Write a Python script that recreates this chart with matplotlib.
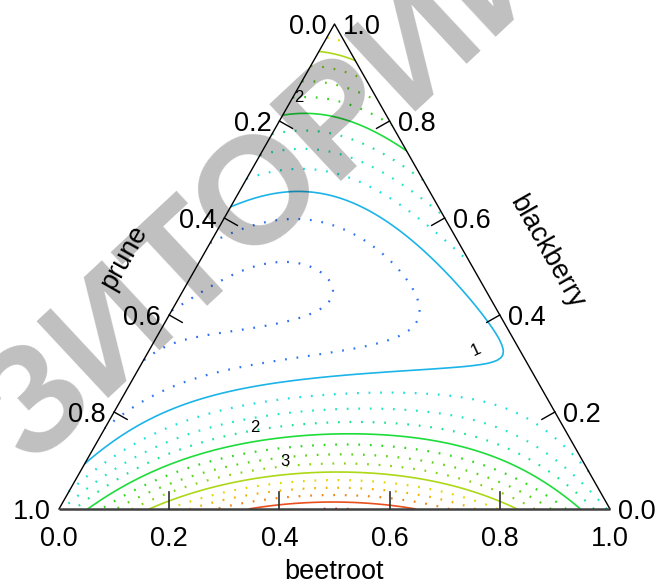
import numpy as np
import matplotlib
matplotlib.use('Agg')
import matplotlib.pyplot as plt
import matplotlib.tri as mtri

plt.rcParams['font.family'] = ['Liberation Sans', 'DejaVu Sans']

# points: beetroot share, blackberry share, level
beet_pts = [0.334, 0.655, 0.494,
            0.160, 0.836, 0.473, 0.000, 0.078,
            0.053, 0.944, 0.433, 0.000, 0.012, 0.097, 0.189, 0.266,
            0.000, 0.108, 0.179, 0.323, 0.436, 0.526, 0.585, 0.640, 0.610, 0.400, 0.224, 0.122, 0.000,
            0.000, 0.056, 0.127, 0.215, 0.294, 0.411, 0.253, 0.147, 0.000,
            0.000, 0.000, 0.140, 0.264, 0.133,
            0.390, 0.407, 0.420, 0.444, 0.453, 0.463, 0.480, 0.488, 0.496, 0.372, 0.023]
black_pts = [0.000, 0.000, 0.013,
             0.000, 0.000, 0.074, 0.942, 0.922,
             0.000, 0.000, 0.155, 0.814, 0.816, 0.811, 0.777, 0.734,
             0.622, 0.654, 0.646, 0.584, 0.509, 0.433, 0.383, 0.335, 0.298, 0.280, 0.253, 0.212, 0.091,
             0.550, 0.581, 0.596, 0.579, 0.540, 0.344, 0.307, 0.280, 0.165,
             0.400, 0.330, 0.503, 0.445, 0.365,
             0.239, 0.206, 0.179, 0.132, 0.113, 0.093, 0.060, 0.043, 0.027, 0.276, 0.967]
value_pts = [4, 4, 4,
             3, 3, 3, 3, 3,
             2, 2, 2, 2, 2, 2, 2, 2,
             1, 1, 1, 1, 1, 1, 1, 1, 1, 1, 1, 1, 1,
             0.75, 0.75, 0.75, 0.75, 0.75, 0.75, 0.75, 0.75, 0.75,
             0.5, 0.5, 0.5, 0.5, 0.5,
             1.25, 1.5, 1.75, 2.25, 2.5, 2.75, 3.25, 3.5, 3.75, 1, 3.25]

solid_levels = [1.0, 2.0, 3.0, 4.0]
dotted_levels = [0.5, 0.75, 1.25, 1.5, 1.75, 2.25, 2.5, 2.75, 3.25, 3.5, 3.75, 4.25]
level_colors = {0.5: '#2f6cf0', 0.75: '#2f78f0', 1.0: '#1cb4e8', 1.25: '#1ee0e0',
                1.5: '#1ee8c0', 1.75: '#1ee490', 2.0: '#1edc3a', 2.25: '#30d820',
                2.5: '#58d418', 2.75: '#84d414', 3.0: '#acd818', 3.25: '#e4d800',
                3.5: '#f0b400', 3.75: '#f08418', 4.0: '#e8501e', 4.25: '#e02020'}

tick_vals = [0.2, 0.4, 0.6, 0.8]
label_vals = [0.0, 0.2, 0.4, 0.6, 0.8, 1.0]


def terms(a, p, k):
    # full cubic Scheffe polynomial
    return np.column_stack([a, p, k, a * p, a * k, p * k,
                            a * p * (a - p), a * k * (a - k), p * k * (p - k), a * p * k])


a = np.array(beet_pts)
k = np.array(black_pts)
coef, *_ = np.linalg.lstsq(terms(a, 1 - a - k, k), np.array(value_pts, dtype=float), rcond=None)

n = 160
ga, gk = [], []
for i in range(n + 1):
    for j in range(n + 1 - i):
        ga.append(i / n)
        gk.append(j / n)
ga = np.array(ga)
gk = np.array(gk)
gp = np.clip(1 - ga - gk, 0, 1)
Z = terms(ga, gp, gk) @ coef
tri = mtri.Triangulation(ga + gk / 2, gk)

W, H = 657, 584
X0, Y0, SX, SY = 59, 509, 551, 485   # triangle in pixels
fig = plt.figure(figsize=(W / 100, H / 100), dpi=100)
ax = fig.add_axes([X0 / W, (H - Y0) / H, SX / W, SY / H])
ax.set_xlim(0, 1)
ax.set_ylim(0, 1)
ax.axis('off')

cs = ax.tricontour(tri, Z, levels=solid_levels,
                   colors=[level_colors[l] for l in solid_levels], linewidths=1.2)
cd = ax.tricontour(tri, Z, levels=dotted_levels,
                   colors=[level_colors[l] for l in dotted_levels], linewidths=1.6)
cd.set_linestyle((0, (0.8, 4.4)))

# frame
ax.plot([0, 0.5, 1], [0, 1, 0], color='black', lw=1.0, clip_on=False)
ax.plot([0, 1], [0, 0], color='#404040', lw=1.8, clip_on=False, solid_capstyle='butt')


def fx(x):
    return x / W


def fy(y):
    return 1 - y / H


def left_pt(v):   # prune
    return X0 + SX * (1 - v) / 2, Y0 - SY * (1 - v)


def right_pt(v):  # blackberry
    return X0 + SX * (1 - v / 2), Y0 - SY * v


def bottom_pt(v):  # beetroot
    return X0 + SX * v, Y0


tl = 15
for v in tick_vals:
    x, y = left_pt(v)
    fig.add_artist(plt.Line2D([fx(x), fx(x + tl * 0.8695)], [fy(y), fy(y + tl * 0.4939)],
                              color='black', lw=1.0))
    x, y = right_pt(v)
    fig.add_artist(plt.Line2D([fx(x), fx(x - tl * 0.8695)], [fy(y), fy(y + tl * 0.4939)],
                              color='black', lw=1.0))
    x, y = bottom_pt(v)
    fig.add_artist(plt.Line2D([fx(x), fx(x)], [fy(y), fy(y - tl - 2)],
                              color='#303030', lw=1.2))

fs = 19.5
for v in label_vals:
    x, y = left_pt(v)
    fig.text(fx(x - 8), fy(y + 10), f'{v:.1f}', ha='right', va='baseline', fontsize=fs)
    x, y = right_pt(v)
    fig.text(fx(x + 8), fy(y + 10), f'{v:.1f}', ha='left', va='baseline', fontsize=fs)
    x, y = bottom_pt(v)
    fig.text(fx(x), fy(y + 37), f'{v:.1f}', ha='center', va='baseline', fontsize=fs)

fig.text(fx(334), fy(579), 'beetroot', ha='center', va='baseline', fontsize=fs)
fig.text(fx(124), fy(257), 'prune', ha='center', va='center', fontsize=fs,
         rotation=60.4, rotation_mode='anchor')
fig.text(fx(547), fy(252), 'blackberry', ha='center', va='center', fontsize=fs,
         rotation=-60.4, rotation_mode='anchor')

# contour labels
for txt, x, y, rot in [('2', 299, 98, 0), ('1', 476, 350, 25),
                       ('2', 255, 427, 0), ('3', 285, 461, 0)]:
    fig.text(fx(x), fy(y), txt, ha='center', va='center', fontsize=12, rotation=rot)

# watermark
fig.text(fx(31), fy(467), 'ЗИТОРИЙ', ha='left', va='baseline', fontsize=110,
         fontweight='bold', color='black', alpha=0.25, rotation=43,
         rotation_mode='anchor', zorder=10)

fig.savefig('out.png', dpi=100)
